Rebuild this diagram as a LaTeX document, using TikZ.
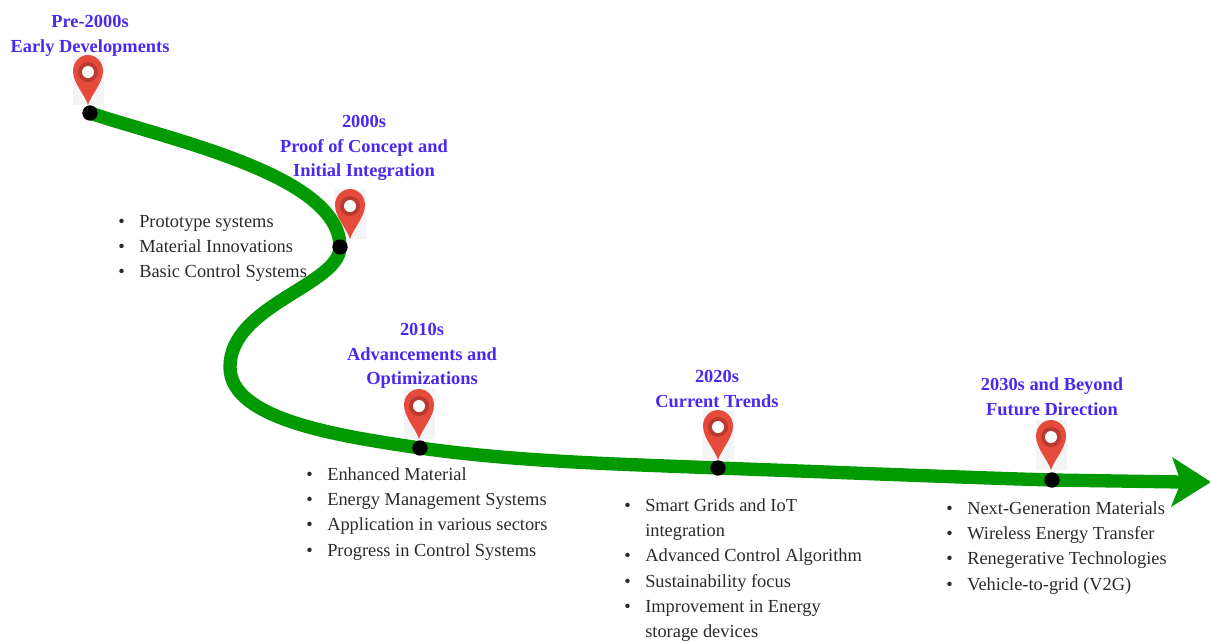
\documentclass[tikz,border=0pt]{standalone}
\usepackage{fontspec}
\setmainfont{Liberation Serif}
\definecolor{pathgreen}{HTML}{029A02}
\definecolor{headblue}{HTML}{4A28F2}
\definecolor{pinred}{HTML}{E64A3B}
\definecolor{pindark}{HTML}{B93A30}
\definecolor{pinbg}{HTML}{F4F4F6}
\definecolor{listgrey}{HTML}{2A2A2A}
\newcommand{\bul}[1]{\makebox[15.75pt][l]{\textbullet}#1}
\newcommand{\cont}[1]{\makebox[15.75pt][l]{}#1}
\tikzset{
  x=0.75pt,y=-0.75pt,
  stopdot/.style={circle,fill=black,inner sep=0pt,minimum size=11.5pt},
  heading/.style={text=headblue,font=\fontsize{13.8}{18.6}\selectfont\bfseries,align=center,inner sep=0pt,anchor=center},
  listing/.style={text=listgrey,font=\fontsize{13.8}{19}\selectfont,align=left,inner sep=0pt,anchor=north west},
  road/.style={draw=pathgreen,line width=10pt,line cap=butt},
  pics/mapin/.style={code={
    \fill[pinbg] (-15,-50) rectangle (16,0);
    \fill[pinred] (0,0) .. controls (-3,-10) and (-15,-22) .. (-15,-34)
      .. controls (-15,-43) and (-8,-50) .. (0,-50)
      .. controls (8,-50) and (15,-43) .. (15,-34)
      .. controls (15,-22) and (3,-10) .. (0,0) -- cycle;
    \fill[pindark] (0,-33) circle [radius=10];
    \fill[white] (0,-33) circle [radius=6];
  }}
}
\begin{document}
\begin{tikzpicture}
\useasboundingbox (0,0) rectangle (1210,640);
\pic at (88,105) {mapin};
\pic at (350,239) {mapin};
\pic at (419,439) {mapin};
\pic at (718,460) {mapin};
\pic at (1051,470) {mapin};
\coordinate (bend) at (230,367);
\coordinate (endline) at (1182,482);
\coordinate (p1) at (90,113);
\coordinate (p2) at (340,247);
\coordinate (p3) at (420,448);
\coordinate (p4) at (718,468);
\coordinate (p5) at (1052,480);
\draw[road] (p1) .. controls (170,140) and (340,175) .. (p2)
  .. controls (340,285) and (230,305) .. (bend)
  .. controls (230,420) and (340,436) .. (p3)
  .. controls (520,462) and (620,464) .. (p4)
  .. controls (830,472) and (950,477) .. (p5)
  -- (endline);
\fill[pathgreen] (1172,457) -- (1181,482) -- (1171,507) -- (1211,482) -- cycle;
\node[stopdot] (s1) at (p1) {};
\node[stopdot] (s2) at (p2) {};
\node[stopdot] (s3) at (p3) {};
\node[stopdot] (s4) at (p4) {};
\node[stopdot] (s5) at (p5) {};
\node[heading] (h1) at (90,36) {Pre-2000s\\Early Developments};
\node[heading] (h2) at (364,148) {2000s\\Proof of Concept and\\Initial Integration};
\node[heading] (h3) at (422,356) {2010s\\Advancements and\\Optimizations};
\node[heading] (h4) at (717,389) {2020s\\Current Trends};
\node[heading] (h5) at (1052,396.5) {2030s and Beyond\\Future Direction};
\node[listing] (l2) at (118,215) {\bul{Prototype systems}\\\bul{Material Innovations}\\\bul{Basic Control Systems}};
\node[listing] (l3) at (306,467) {\bul{Enhanced Material}\\\bul{Energy Management Systems}\\\bul{Application in various sectors}\\\bul{Progress in Control Systems}};
\node[listing] (l4) at (624,498) {\bul{Smart Grids and IoT}\\\cont{integration}\\\bul{Advanced Control Algorithm}\\\bul{Sustainability focus}\\\bul{Improvement in Energy}\\\cont{storage devices}};
\node[listing] (l5) at (946,501) {\bul{Next-Generation Materials}\\\bul{Wireless Energy Transfer}\\\bul{Renegerative Technologies}\\\bul{Vehicle-to-grid (V2G)}};
\end{tikzpicture}
\end{document}
